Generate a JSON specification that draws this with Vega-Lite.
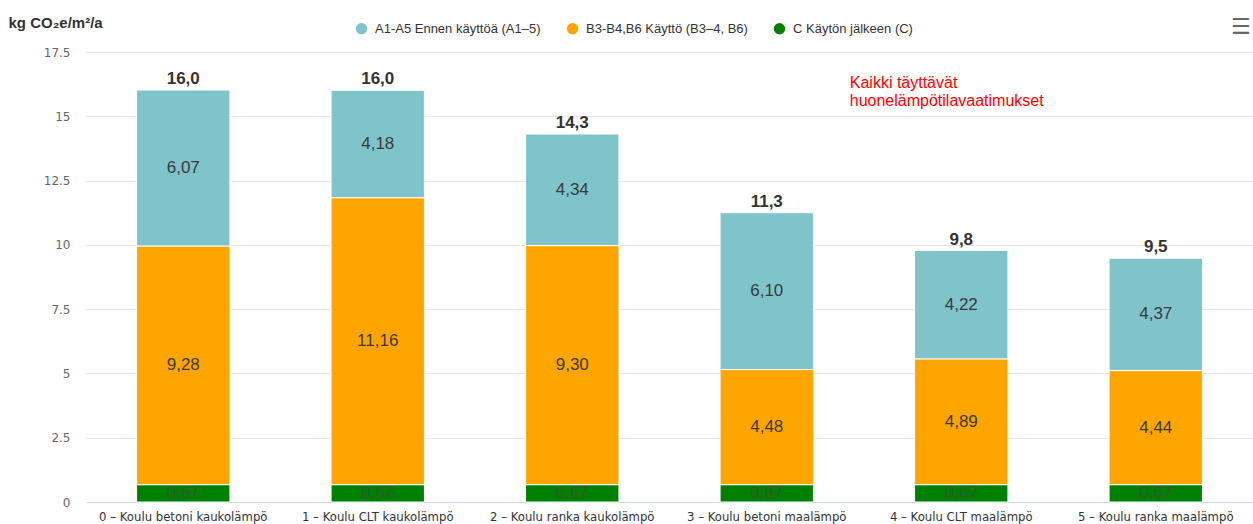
{
  "$schema": "https://vega.github.io/schema/vega-lite/v6.json",
  "width": 1167,
  "height": 450,
  "autosize": {"type": "none"},
  "padding": {"left": 86, "top": 52, "right": 0, "bottom": 22},
  "background": "#ffffff",
  "config": {
    "locale": {"number": {"decimal": ",", "thousands": "\u00a0", "grouping": [3], "currency": ["", " €"]}},
    "view": {"stroke": null},
    "font": "Liberation Sans"
  },
  "data": {
    "values": [
      {"bar": "0 – Koulu betoni kaukolämpö", "cat": "A1-A5 Ennen käyttöä (A1–5)", "ord": 3, "value": 6.07},
      {"bar": "0 – Koulu betoni kaukolämpö", "cat": "B3-B4,B6 Käyttö (B3–4, B6)", "ord": 2, "value": 9.28},
      {"bar": "0 – Koulu betoni kaukolämpö", "cat": "C Käytön jälkeen (C)", "ord": 1, "value": 0.67},
      {"bar": "1 – Koulu CLT kaukolämpö", "cat": "A1-A5 Ennen käyttöä (A1–5)", "ord": 3, "value": 4.18},
      {"bar": "1 – Koulu CLT kaukolämpö", "cat": "B3-B4,B6 Käyttö (B3–4, B6)", "ord": 2, "value": 11.16},
      {"bar": "1 – Koulu CLT kaukolämpö", "cat": "C Käytön jälkeen (C)", "ord": 1, "value": 0.67},
      {"bar": "2 – Koulu ranka kaukolämpö", "cat": "A1-A5 Ennen käyttöä (A1–5)", "ord": 3, "value": 4.34},
      {"bar": "2 – Koulu ranka kaukolämpö", "cat": "B3-B4,B6 Käyttö (B3–4, B6)", "ord": 2, "value": 9.30},
      {"bar": "2 – Koulu ranka kaukolämpö", "cat": "C Käytön jälkeen (C)", "ord": 1, "value": 0.67},
      {"bar": "3 – Koulu betoni maalämpö", "cat": "A1-A5 Ennen käyttöä (A1–5)", "ord": 3, "value": 6.10},
      {"bar": "3 – Koulu betoni maalämpö", "cat": "B3-B4,B6 Käyttö (B3–4, B6)", "ord": 2, "value": 4.48},
      {"bar": "3 – Koulu betoni maalämpö", "cat": "C Käytön jälkeen (C)", "ord": 1, "value": 0.67},
      {"bar": "4 – Koulu CLT maalämpö", "cat": "A1-A5 Ennen käyttöä (A1–5)", "ord": 3, "value": 4.22},
      {"bar": "4 – Koulu CLT maalämpö", "cat": "B3-B4,B6 Käyttö (B3–4, B6)", "ord": 2, "value": 4.89},
      {"bar": "4 – Koulu CLT maalämpö", "cat": "C Käytön jälkeen (C)", "ord": 1, "value": 0.67},
      {"bar": "5 – Koulu ranka maalämpö", "cat": "A1-A5 Ennen käyttöä (A1–5)", "ord": 3, "value": 4.37},
      {"bar": "5 – Koulu ranka maalämpö", "cat": "B3-B4,B6 Käyttö (B3–4, B6)", "ord": 2, "value": 4.44},
      {"bar": "5 – Koulu ranka maalämpö", "cat": "C Käytön jälkeen (C)", "ord": 1, "value": 0.67}
    ]
  },
  "encoding": {
    "x": {
      "field": "bar", "type": "nominal", "sort": null,
      "scale": {"paddingInner": 0.52, "paddingOuter": 0.26},
      "axis": {
        "title": null, "labelAngle": 0, "labelFont": "DejaVu Sans", "labelFontSize": 11.7, "labelColor": "#333333",
        "ticks": false, "domainColor": "#ccd6eb", "domainWidth": 1, "labelPadding": 9, "grid": false
      }
    }
  },
  "layer": [
    {
      "transform": [
        {"stack": "value", "groupby": ["bar"], "sort": [{"field": "ord", "order": "ascending"}], "as": ["v0", "v1"]}
      ],
      "mark": {"type": "bar", "stroke": "#ffffff", "strokeWidth": 1},
      "encoding": {
        "y": {
          "field": "v0", "type": "quantitative",
          "scale": {"domain": [0, 17.5], "nice": false},
          "axis": {
            "values": [0, 2.5, 5, 7.5, 10, 12.5, 15, 17.5],
            "labelExpr": "replace(format(datum.value, '.1~f'), ',', '.')",
            "labelFont": "DejaVu Sans", "labelFontSize": 12, "labelColor": "#666666", "labelPadding": 16,
            "ticks": false, "domain": false, "gridColor": "#e6e6e6", "gridWidth": 1,
            "title": "kg CO₂e/m²/a", "titleAngle": 0, "titleAlign": "left", "titleBaseline": "alphabetic",
            "titleX": -78, "titleY": -25, "titleFont": "Liberation Sans", "titleFontSize": 15, "titleFontWeight": "bold", "titleColor": "#333333"
          }
        },
        "y2": {"field": "v1"},
        "color": {
          "field": "cat", "type": "nominal",
          "scale": {
            "domain": ["A1-A5 Ennen käyttöä (A1–5)", "B3-B4,B6 Käyttö (B3–4, B6)", "C Käytön jälkeen (C)"],
            "range": ["#7fc4cb", "#ffa500", "#008000"]
          },
          "legend": {
            "title": null, "orient": "none", "direction": "horizontal", "legendX": 269, "legendY": -30,
            "symbolType": "circle", "symbolSize": 130, "symbolStrokeWidth": 0, "labelFont": "Liberation Sans", "labelFontSize": 13,
            "labelColor": "#333333", "columnPadding": 25, "labelOffset": 7, "labelLimit": 300
          }
        }
      }
    },
    {
      "transform": [
        {"stack": "value", "groupby": ["bar"], "sort": [{"field": "ord", "order": "ascending"}], "as": ["v0", "v1"]},
        {"calculate": "(datum.v0 + datum.v1) / 2", "as": "mid"}
      ],
      "mark": {"type": "text", "font": "Liberation Sans", "fontSize": 17, "baseline": "middle", "align": "center"},
      "encoding": {
        "y": {"field": "mid", "type": "quantitative"},
        "text": {"field": "value", "type": "quantitative", "format": ".2f"},
        "color": {
          "condition": {"test": "datum.ord == 1", "value": "#2f5a2f"},
          "value": "#3a3a3a"
        }
      }
    },
    {
      "transform": [
        {"aggregate": [{"op": "sum", "field": "value", "as": "total"}], "groupby": ["bar"]}
      ],
      "mark": {"type": "text", "font": "Liberation Sans", "fontSize": 17, "fontWeight": "bold", "color": "#333333", "baseline": "alphabetic", "dy": -6},
      "encoding": {
        "y": {"field": "total", "type": "quantitative"},
        "text": {"field": "total", "type": "quantitative", "format": ".1f"}
      }
    },
    {
      "data": {"values": [{}]},
      "mark": {"type": "text", "text": ["Kaikki täyttävät", "huonelämpötilavaatimukset"], "font": "Liberation Sans", "fontSize": 16, "color": "#ff0000", "align": "left", "baseline": "top", "lineHeight": 18, "dx": 83},
      "encoding": {
        "x": {"datum": "3 – Koulu betoni maalämpö"},
        "y": {"datum": 16.6}
      }
    },
    {
      "data": {"values": [{}]},
      "mark": {"type": "text", "text": "☰", "font": "DejaVu Sans", "fontSize": 22, "color": "#666666", "align": "center", "baseline": "middle", "dx": 85, "dy": -25},
      "encoding": {
        "x": {"datum": "5 – Koulu ranka maalämpö"},
        "y": {"datum": 17.5}
      }
    }
  ]
}
